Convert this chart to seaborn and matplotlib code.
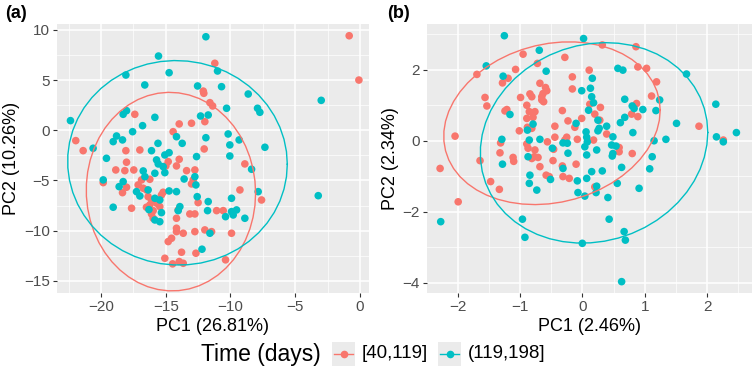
import numpy as np
import pandas as pd
import seaborn as sns
import matplotlib.pyplot as plt
from matplotlib.lines import Line2D
from matplotlib.patches import Rectangle
from matplotlib.ticker import MultipleLocator

# ---- data ----
groups = ['[40,119]', '(119,198]']
colors = ['#F8766D', '#00BFC4']

# panel (a)
a_red_x = [-12.06, -11.59, -11.38, -17.39, -13.96, -13.01, -11.98, -14.43, -21.38, -18.08,
           -17.0, -12.03, -18.03, -18.86, -18.16, -17.47, -14.99, -14.81, -14.17, -13.96,
           -13.39, -12.75, -8.89, -19.83, -18.03, -18.34, -16.87, -17.13, -16.74, -16.49,
           -16.23, -15.2, -15.33, -12.88, -13.01, -9.27, -16.36, -16.1, -16.23, -16.49,
           -15.71, -15.46, -15.97, -17.64, -12.5, -14.04, -14.17, -13.14, -12.75, -11.07,
           -10.56, -16.1, -15.97, -14.17, -14.17, -13.65, -14.81, -14.55, -12.75, -11.98,
           -11.46, -9.92, -13.78, -12.67, -15.07, -14.47, -13.96, -13.65, -10.38, -0.83,
           -0.08, -11.21, -7.6, -21.95, -12.1]
a_red_y = [3.68, 2.75, 2.42, 1.59, 0.63, 0.70, 0.86, -0.14, -2.03, -2.03,
           -1.96, -1.86, -3.18, -3.95, -4.02, -3.95, -3.55, -3.12, -3.55, -2.89,
           -4.02, -3.95, -3.35, -5.21, -5.67, -6.21, -4.94, -5.44, -5.77, -5.94,
           -4.88, -6.17, -6.44, -4.94, -5.34, -5.94, -6.61, -6.94, -7.43, -7.66,
           -7.26, -7.6, -8.0, -7.76, -7.2, -7.93, -8.76, -8.33, -8.33, -8.0,
           -8.0, -8.33, -8.76, -9.75, -10.09, -10.25, -11.08, -10.75, -10.09, -9.92,
           -10.09, -10.25, -12.14, -12.24, -12.74, -13.3, -13.07, -13.24, -12.9, 9.41,
           5.0, 6.67, -6.94, -1.03, 3.9]
a_teal_x = [-8.63, -10.3, -11.72, -12.31, -18.29, -18.03, -15.84, -16.79, -17.56, -18.8,
            -19.06, -18.34, -15.6, -16.1, -14.17, -13.73, -11.9, -10.18, -9.33, -10.05,
            -20.61, -19.58, -14.74, -15.07, -15.71, -15.58, -15.2, -12.62, -10.05, -8.37,
            -16.74, -16.61, -15.84, -15.07, -13.58, -12.75, -12.67, -19.83, -18.6, -18.29,
            -17.26, -17.0, -16.36, -14.74, -14.17, -7.86, -15.84, -15.46, -12.57, -11.72,
            -9.92, -19.06, -13.91, -14.04, -15.33, -15.46, -15.84, -10.38, -9.92, -9.53,
            -9.79, -8.89, -11.59, -12.2, -15.56, -18.08, -16.62, -14.74, -22.36, -11.9,
            -11.0, -12.54, -10.69, -7.91, -7.73, -2.99, -7.34, -3.22, -11.77, -16.3]
a_teal_y = [3.61, 2.19, 1.52, 1.42, 1.59, 1.95, 1.29, 0.46, -0.14, -0.57,
            -1.13, -0.96, -1.3, -2.03, -0.64, -1.3, -0.74, -0.37, -0.96, -1.46,
            -1.79, -2.79, -2.23, -2.46, -2.95, -3.35, -3.62, -2.62, -2.56, -3.88,
            -4.05, -4.62, -4.28, -4.22, -4.85, -4.62, -5.44, -4.94, -5.61, -5.11,
            -6.11, -6.54, -5.94, -6.04, -6.11, -6.11, -6.77, -6.94, -6.61, -7.1,
            -6.77, -7.66, -7.6, -8.0, -8.2, -9.1, -8.93, -8.6, -8.1, -7.93,
            -8.43, -8.76, -10.25, -11.84, 7.39, 5.5, 4.51, 5.73, 0.96, 9.31,
            5.9, 4.41, 4.34, 2.19, 1.79, 2.98, -1.69, -6.51, -8.0, -7.9]

# panel (b)
b_red_x = [-1.69, -1.07, -0.95, -0.72, -1.19, -1.28, -0.68, -0.59, -0.57, -0.63,
           -0.65, -1.56, -1.53, -0.99, -0.84, -0.81, -1.21, -1.24, -0.89, -0.85,
           -0.89, -0.79, -1.01, -0.44, -2.04, -1.31, -0.89, -0.87, -1.32, -1.11,
           -0.77, -0.44, -0.46, -0.28, 0.11, -0.16, -0.16, -0.65, -0.62, -0.76,
           -0.32, 0.12, 0.2, 0.28, -0.01, -0.23, -0.88, -0.81, -0.12, -0.25,
           -0.28, -0.08, 0.18, -0.56, -0.76, -1.1, -0.81, -0.71, -1.64, -0.47,
           -0.32, -0.1, -0.68, -0.58, -0.53, -0.31, -0.21, -1.47, -1.33, 0.2,
           0.89, 1.03, 1.19, 1.11, 0.87, 0.29, 0.79, 0.89, 0.39, 0.59,
           0.59, 0.8, 1.87, 0.32, 0.86, 2.26, -2.28, -1.99]
b_red_y = [1.87, 2.01, 2.44, 2.18, 1.76, 1.63, 1.62, 1.5, 1.41, 1.33,
           1.24, 1.22, 0.98, 1.22, 1.32, 1.24, 0.88, 0.84, 1.0, 0.82,
           0.63, 0.66, 0.28, 0.41, 0.13, -0.06, -0.09, -0.21, -0.34, -0.47,
           -0.45, 0.1, -0.24, 2.35, 1.99, 1.8, 1.46, 1.15, 1.1, 0.82,
           0.85, 1.03, 0.75, 0.58, 0.63, 0.56, 0.38, 0.35, 0.38, 0.1,
           0.02, 0.04, 0.02, -0.03, -0.26, -0.58, -0.5, -0.47, -0.56, -0.56,
           -0.71, -0.66, -0.73, -0.97, -1.01, -1.01, -1.06, -1.15, -1.37, -1.3,
           2.08, 2.04, 1.66, 1.26, 1.05, 0.94, 0.75, 0.68, 0.19, -0.19,
           -0.31, -0.36, 0.41, 2.7, 2.65, 0.02, -0.78, -1.72]
b_teal_x = [-1.25, -1.54, -0.69, -0.58, -1.27, -1.16, -0.79, -0.88, -1.29, -0.85,
            -0.68, -0.48, 0.02, 0.16, -0.01, 0.13, 0.15, 0.18, 0.1, 0.25,
            0.27, 0.25, 0.39, -0.1, 0.06, 0.07, 0.08, 0.04, 0.07, -0.31,
            -0.24, -0.23, -0.87, -1.28, 0.23, 0.15, -0.31, -0.84, -0.85, -0.51,
            -0.08, 0.07, 0.23, -0.73, 0.57, 0.65, 1.67, 0.68, 0.8, 0.83,
            0.97, 1.24, 1.18, 0.68, 0.61, 1.51, 0.81, 0.49, 0.47, 0.54,
            0.49, 0.48, 1.15, 1.34, 1.12, 1.08, 0.63, 0.32, 0.56, 0.91,
            0.41, 2.14, 2.15, 2.26, 2.47, 0.22, -0.07, 0.04, 0.43, 0.67,
            0.69, 0.0, 0.63, -2.27, -0.96, -0.92]
b_teal_y = [2.96, 2.11, 2.55, 1.96, 1.82, 0.74, 0.47, 0.3, 0.04, 0.02,
            0.04, -0.21, 2.88, 1.76, 1.41, 1.48, 1.24, 1.07, 0.86, 0.58,
            0.35, 0.28, 0.41, 0.49, 0.25, 0.1, -0.03, -0.17, -0.4, -0.06,
            -0.07, -0.35, -0.45, -0.66, -0.26, -0.87, -0.78, -0.97, -1.2, -1.09,
            -1.13, -1.06, -1.28, -1.39, 2.04, 1.99, 1.88, 1.17, 0.98, 0.91,
            0.88, 1.15, 0.85, 0.66, 0.51, 0.49, 0.23, 0.11, -0.12, -0.15,
            -0.36, -0.43, 0.0, 0.04, -0.45, -0.79, -0.75, -0.85, -1.2, -1.34,
            -1.6, 1.03, 0.11, -0.03, 0.23, -1.46, -1.46, -1.56, -2.21, -2.56,
            -2.8, -2.89, -3.97, -2.28, -2.21, -2.72]


def make_df(rx, ry, tx, ty):
    return pd.DataFrame({
        'PC1': rx + tx,
        'PC2': ry + ty,
        'Time (days)': [groups[0]] * len(rx) + [groups[1]] * len(tx),
    })


def trob_ellipse(x, y, level=0.95, nu=5, segments=51):
    # same as ggplot2 stat_ellipse(type = "t"): MASS::cov.trob + F radius
    X0 = np.column_stack([x, y])
    n, p = X0.shape
    wt = np.ones(n)
    loc = X0.mean(0)
    w = np.sqrt(wt)
    for _ in range(25):
        w0 = w
        X = X0 - loc
        _, d, vt = np.linalg.svd(np.sqrt(w / w.sum())[:, None] * X, full_matrices=False)
        wX = X @ vt.T @ np.diag(1 / d)
        Q = (wX ** 2).sum(1)
        w = wt * (nu + p) / (nu + Q)
        loc = (w[:, None] * X0).sum(0) / w.sum()
        if np.all(np.abs(w - w0) < 0.01):
            break
    sX = np.sqrt(w)[:, None] * X
    cov = sX.T @ sX / wt.sum()
    dfd = n - 1
    radius = np.sqrt(2 * (dfd / 2) * ((1 - level) ** (-2 / dfd) - 1))
    ang = np.linspace(0, 2 * np.pi, segments + 1)
    circ = np.column_stack([np.cos(ang), np.sin(ang)])
    ell = loc + radius * circ @ np.linalg.cholesky(cov).T
    return ell[:, 0], ell[:, 1]


plt.rcParams['font.family'] = ['Liberation Sans', 'DejaVu Sans']

fig = plt.figure(figsize=(7.54, 3.73), dpi=100)
ax_a = fig.add_axes([57 / 754, 80 / 373, 312 / 754, 269 / 373])
ax_b = fig.add_axes([427 / 754, 80 / 373, 325 / 754, 269 / 373])

panels = [
    (ax_a, make_df(a_red_x, a_red_y, a_teal_x, a_teal_y), 'PC1 (26.81%)', 'PC2 (10.26%)',
     (-23.4, 0.7), (-16.2, 10.58), 5, 5),
    (ax_b, make_df(b_red_x, b_red_y, b_teal_x, b_teal_y), 'PC1 (2.46%)', 'PC2 (2.34%)',
     (-2.49, 2.72), (-4.29, 3.29), 1, 2),
]

for ax, df, xl, yl, xlim, ylim, xstep, ystep in panels:
    ax.set_facecolor('#EBEBEB')
    ax.set_axisbelow(True)
    sns.scatterplot(data=df, x='PC1', y='PC2', hue='Time (days)', hue_order=groups,
                    palette=colors, s=30, linewidth=0, legend=False, ax=ax, zorder=3)
    for g, c in zip(groups, colors):
        sub = df[df['Time (days)'] == g]
        ex, ey = trob_ellipse(sub['PC1'].values, sub['PC2'].values)
        ax.plot(ex, ey, color=c, lw=1.0, zorder=4)
    ax.set_xlim(*xlim)
    ax.set_ylim(*ylim)
    ax.xaxis.set_major_locator(MultipleLocator(xstep))
    ax.yaxis.set_major_locator(MultipleLocator(ystep))
    ax.xaxis.set_minor_locator(MultipleLocator(xstep / 2))
    ax.yaxis.set_minor_locator(MultipleLocator(ystep / 2))
    ax.grid(which='major', color='white', lw=1.1)
    ax.grid(which='minor', color='white', lw=0.5)
    for s in ax.spines.values():
        s.set_visible(False)
    ax.tick_params(which='major', length=3, width=0.8, color='#333333',
                   labelsize=11, labelcolor='#4D4D4D', pad=2)
    ax.tick_params(which='minor', length=0)
    ax.set_xlabel(xl, fontsize=13, labelpad=3)
    ax.set_ylabel(yl, fontsize=13, labelpad=3)

fig.text(5 / 754, 1 - 14 / 373, '(a)', fontsize=13, fontweight='bold', va='center')
fig.text(387 / 754, 1 - 14 / 373, '(b)', fontsize=13, fontweight='bold', va='center')

# legend, drawn in ggplot style
ly = 1 - 354 / 373
fig.text(201 / 754, ly, 'Time (days)', fontsize=16.5, va='center', ha='left')
for x0, lab, c in [(332, groups[0], colors[0]), (438, groups[1], colors[1])]:
    fig.add_artist(Rectangle((x0 / 754, ly - 12 / 373), 23 / 754, 24 / 373,
                             transform=fig.transFigure, color='#EBEBEB', lw=0))
    fig.add_artist(Line2D([(x0 + 2) / 754, (x0 + 21) / 754], [ly, ly], color=c, lw=1.0,
                          transform=fig.transFigure))
    fig.add_artist(Line2D([(x0 + 11.5) / 754], [ly], marker='o', markersize=5.5,
                          markeredgewidth=0, color=c, transform=fig.transFigure))
    fig.text((x0 + 30) / 754, ly, lab, fontsize=13.5, va='center', ha='left')

fig.savefig('out.png', dpi=100)
